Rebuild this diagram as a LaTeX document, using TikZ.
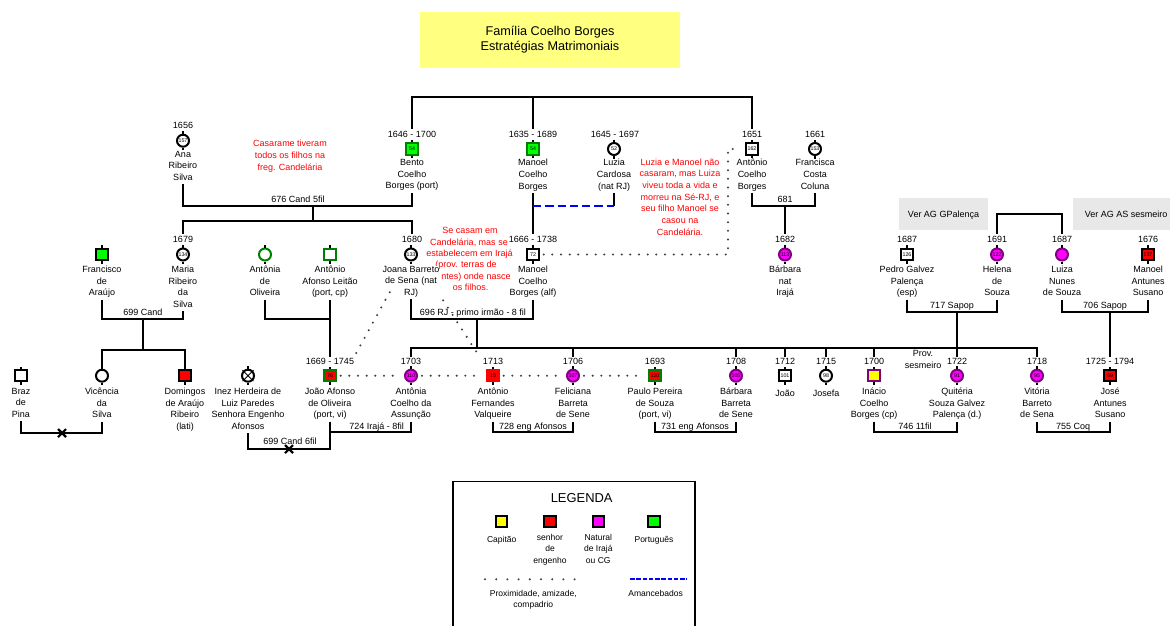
\documentclass[tikz,border=0pt]{standalone}
\usepackage{fontspec}
\setmainfont{Liberation Sans}
\newcommand\fn{\fontsize{6.75}{8.75}\selectfont}
\newcommand\fnum{\fontsize{4}{4}\selectfont}
\newcommand\fleg{\fontsize{6.4}{8.4}\selectfont}
\newcommand\ftitle{\fontsize{9.5}{11.25}\selectfont}
\newcommand\fbig{\fontsize{9.7}{11}\selectfont}
\definecolor{pgreen}{RGB}{0,255,0}
\definecolor{pdgreen}{RGB}{0,128,0}
\definecolor{pred}{RGB}{255,0,0}
\definecolor{pmag}{RGB}{255,0,255}
\definecolor{ppurp}{RGB}{128,0,128}
\definecolor{pyel}{RGB}{255,255,0}
\definecolor{pblue}{RGB}{0,0,255}
\definecolor{nred}{RGB}{255,0,0}
\definecolor{titlebg}{RGB}{255,255,128}
\definecolor{boxgray}{RGB}{232,232,232}
\tikzset{
  rel/.style={line width=1.5pt},
  stub/.style={line width=1.5pt},
  prox/.style={draw=black!75, line width=1.7pt, line cap=round, dash pattern=on 0pt off 6.5pt, shorten <=3pt, shorten >=3pt},
  proxleg/.style={draw=black!75, line width=1.7pt, line cap=round, dash pattern=on 0pt off 8.4pt},
  amanc/.style={draw=pblue, line width=1.5pt, dash pattern=on 6.2pt off 3pt},
  amancleg/.style={draw=pblue, line width=1.6pt, dash pattern=on 3.4pt off 1.3pt},
  pnode/.style={draw, line width=1.5pt, minimum size=8.5pt, inner sep=0pt, font=\fnum, fill=white},
  psq/.style={pnode, rectangle},
  pci/.style={pnode, circle, minimum size=9pt},
  lbl/.style={font=\fn, inner sep=0pt, text height=4.8pt, text depth=0pt},
  dt/.style={lbl, outer ysep=1.5pt},
  nm/.style={font=\fn, align=center, inner sep=0pt, anchor=north, execute at begin node=\strut, execute at end node=\strut},
  note/.style={lbl, text=nred},
  xmark/.style={line width=1.6pt},
}
\begin{document}
\begin{tikzpicture}[x=0.75pt,y=-0.75pt]
\useasboundingbox (0,0) rectangle (1170,625);
\clip (0,0) rectangle (1170,625);

% title and reference boxes
\node[fill=titlebg, minimum width=195pt, minimum height=42pt, inner sep=0pt, align=center, font=\ftitle] (title) at (550,40) {Família Coelho Borges\\Estratégias Matrimoniais};
\node[lbl, fill=boxgray, minimum width=66.75pt, minimum height=24pt] (verg) at (943.5,214) {Ver AG GPalença};
\node[lbl, fill=boxgray, minimum width=79.5pt, minimum height=24pt] (vera) at (1126,214) {Ver AG AS sesmeiro};

% notes
\node[nm, text=nred] (nota1) at (290,140) {Casarame tiveram\\todos os filhos na\\freg. Candelária};
\node[note] (n2a) at (470,230.7) {Se casam em};
\node[note] (n2b) at (469,242.3) {Candelária, mas se};
\node[note] (n2c) at (469.5,253.3) {estabelecem em Irajá};
\node[note] (n2d) at (466,264.3) {(prov. terras de};
\node[note] (n2e) at (476,276) {ntes) onde nasce};
\node[note] (n2f) at (470.7,287.7) {os filhos.};
\node[nm, text=nred] (nota3) at (680,158.3) {Luzia e Manoel não\\casaram, mas Luiza\\viveu toda a vida e\\morreu na Sé-RJ, e\\seu filho Manoel se\\casou na\\Candelária.};
\node[nm] (prov) at (923,350) {Prov.\\sesmeiro};

% generation 1
\node[pci] (ana) at (183,140.7) {157};
\node[dt] (ana-d) at (183,125) {1656};
\node[nm] (ana-n) at (183,150.7) {Ana\\Ribeiro\\Silva};
\node[psq, fill=pgreen, draw=pdgreen] (bento) at (412,149) {54};
\node[dt] (bento-d) at (412,134) {1646 - 1700};
\node[nm] (bento-n) at (412,159) {Bento\\Coelho\\Borges (port)};
\node[psq, fill=pgreen, draw=pdgreen] (manoela) at (533,149) {54};
\node[dt] (manoela-d) at (533,134) {1635 - 1689};
\node[nm] (manoela-n) at (533,159) {Manoel\\Coelho\\Borges};
\node[pci] (luzia) at (614,149) {52};
\node[dt] (luzia-d) at (615,134) {1645 - 1697};
\node[nm] (luzia-n) at (614,159) {Luzia\\Cardosa\\(nat RJ)};
\node[psq] (antonio) at (752,149) {162};
\node[dt] (antonio-d) at (752,134) {1651};
\node[nm] (antonio-n) at (752,159) {Antônio\\Coelho\\Borges};
\node[pci] (francisca) at (815,149) {153};
\node[dt] (francisca-d) at (815,134) {1661};
\node[nm] (francisca-n) at (815,159) {Francisca\\Costa\\Coluna};

% generation 2
\node[psq, fill=pgreen] (francisco) at (102,254.5) {};
\node[nm] (francisco-n) at (102,265.7) {Francisco\\de\\Araújo};
\node[pci] (maria) at (183,254.5) {134};
\node[dt] (maria-d) at (183,239) {1679};
\node[nm] (maria-n) at (183,265.7) {Maria\\Ribeiro\\da\\Silva};
\node[pci, draw=pdgreen] (antoniaol) at (265,254.5) {};
\node[nm] (antoniaol-n) at (265,265.7) {Antônia\\de\\Oliveira};
\node[psq, draw=pdgreen] (antonioal) at (330,254.5) {};
\node[nm] (antonioal-n) at (330,265.7) {Antônio\\Afonso Leitão\\(port, cp)};
\node[pci] (joana) at (411,254.5) {133};
\node[dt] (joana-d) at (412,239) {1680};
\node[nm, fill=white] (joana-n) at (411,265.7) {Joana Barreto\\de Sena (nat\\RJ)};
\node[psq] (manoelb) at (533,254.5) {72};
\node[dt] (manoelb-d) at (533,239) {1666 - 1738};
\node[nm] (manoelb-n) at (533,265.7) {Manoel\\Coelho\\Borges (alf)};
\node[pci, fill=pmag, draw=ppurp] (barbaraa) at (785,254.5) {113};
\node[dt] (barbaraa-d) at (785,239) {1682};
\node[nm] (barbaraa-n) at (785,265.7) {Bárbara\\nat\\Irajá};
\node[psq] (pedro) at (907,254.5) {126};
\node[dt] (pedro-d) at (907,239) {1687};
\node[nm] (pedro-n) at (907,265.7) {Pedro Galvez\\Palença\\(esp)};
\node[pci, fill=pmag, draw=ppurp] (helena) at (997,254.5) {122};
\node[dt] (helena-d) at (997,239) {1691};
\node[nm] (helena-n) at (997,265.7) {Helena\\de\\Souza};
\node[pci, fill=pmag, draw=ppurp] (luiza) at (1062,254.5) {};
\node[dt] (luiza-d) at (1062,239) {1687};
\node[nm] (luiza-n) at (1062,265.7) {Luiza\\Nunes\\de Souza};
\node[psq, fill=pred] (manoelc) at (1148,254.5) {137};
\node[dt] (manoelc-d) at (1148,239) {1676};
\node[nm] (manoelc-n) at (1148,265.7) {Manoel\\Antunes\\Susano};

% generation 3
\node[psq] (braz) at (21,375.7) {};
\node[nm] (braz-n) at (21,387.7) {Braz\\de\\Pina};
\node[pci] (vicencia) at (102,375.7) {};
\node[nm] (vicencia-n) at (102,387.7) {Vicência\\da\\Silva};
\node[psq, fill=pred] (domingos) at (185,375.7) {};
\node[nm] (domingos-n) at (185,387.7) {Domingos\\de Araújo\\Ribeiro\\(lati)};
\node[pci] (inez) at (248,375.7) {};
\draw[line width=0.6pt] (inez.center) +(-5.5,-5.5) -- +(5.5,5.5) (inez.center) +(-5.5,5.5) -- +(5.5,-5.5);
\node[nm] (inez-n) at (248,387.7) {Inez Herdeira de\\Luiz Paredes\\Senhora Engenho\\Afonsos};
\node[psq, fill=pred, draw=pdgreen] (joao) at (330,375.7) {76};
\node[dt] (joao-d) at (330,361.7) {1669 - 1745};
\node[nm] (joao-n) at (330,387.7) {João Afonso\\de Oliveira\\(port, vi)};
\node[pci, fill=pmag, draw=ppurp] (antoniac) at (411,375.7) {110};
\node[dt] (antoniac-d) at (411,361.7) {1703};
\node[nm] (antoniac-n) at (411,387.7) {Antônia\\Coelho da\\Assunção};
\node[psq, fill=pred, draw=pred] (antoniof) at (493,375.7) {15};
\node[dt] (antoniof-d) at (493,361.7) {1713};
\node[nm] (antoniof-n) at (493,387.7) {Antônio\\Fernandes\\Valqueire};
\node[pci, fill=pmag, draw=ppurp] (feliciana) at (573,375.7) {107};
\node[dt] (feliciana-d) at (573,361.7) {1706};
\node[nm] (feliciana-n) at (573,387.7) {Feliciana\\Barreta\\de Sene};
\node[psq, fill=pred, draw=pdgreen] (paulo) at (655,375.7) {120};
\node[dt] (paulo-d) at (655,361.7) {1693};
\node[nm] (paulo-n) at (655,387.7) {Paulo Pereira\\de Souza\\(port, vi)};
\node[pci, fill=pmag, draw=ppurp] (barbarab) at (736,375.7) {105};
\node[dt] (barbarab-d) at (736,361.7) {1708};
\node[nm] (barbarab-n) at (736,387.7) {Bárbara\\Barreta\\de Sene};
\node[psq] (joaob) at (785,375.7) {101};
\node[dt] (joaob-d) at (785,361.7) {1712};
\node[nm] (joaob-n) at (785,387.7) {João};
\node[pci] (josefa) at (826,375.7) {98};
\node[dt] (josefa-d) at (826,361.7) {1715};
\node[nm] (josefa-n) at (826,387.7) {Josefa};
\node[psq, fill=pyel, draw=ppurp] (inacio) at (874,375.7) {};
\node[dt] (inacio-d) at (874,361.7) {1700};
\node[nm] (inacio-n) at (874,387.7) {Inácio\\Coelho\\Borges (cp)};
\node[pci, fill=pmag, draw=ppurp] (quiteria) at (957,375.7) {91};
\node[dt] (quiteria-d) at (957,361.7) {1722};
\node[nm] (quiteria-n) at (957,387.7) {Quitéria\\Souza Galvez\\Palença (d.)};
\node[pci, fill=pmag, draw=ppurp] (vitoria) at (1037,375.7) {95};
\node[dt] (vitoria-d) at (1037,361.7) {1718};
\node[nm] (vitoria-n) at (1037,387.7) {Vitória\\Barreto\\de Sena};
\node[psq, fill=pred] (jose) at (1110,375.7) {69};
\node[dt] (jose-d) at (1110,361.7) {1725 - 1794};
\node[nm] (jose-n) at (1110,387.7) {José\\Antunes\\Susano};

% short ticks above and below every person symbol
\foreach \p in {ana,bento,manoela,luzia,antonio,francisca,francisco,maria,antoniaol,antonioal,joana,manoelb,barbaraa,pedro,helena,luiza,manoelc,braz,vicencia,domingos,inez,joao,antoniac,antoniof,feliciana,paulo,barbarab,joaob,josefa,inacio,quiteria,vitoria,jose}
  \draw[stub] (\p.north) -- ++(0,-2.5) (\p.south) -- ++(0,2.5);

% siblings of the first generation
\coordinate (s0) at (533,97);
\draw[rel] (bento-d.north) |- (s0) -| (antonio-d.north);
\draw[rel] (manoela-d.north) -- (s0);

% 676: Ana and Bento
\coordinate (m676) at (313,206);
\draw[rel] (ana-n.south) |- (m676) -| (bento-n.south);
\node[lbl] (l676) at (298,199) {676 Cand 5fil};
\coordinate (s676) at (313,221);
\draw[rel] (m676) -- (s676);
\draw[rel] (maria-d.north) |- (s676) -| (joana-d.north);

% Manoel and Luzia
\coordinate (mml) at (533,206);
\draw[rel] (manoela-n.south) -- (manoelb-d.north);
\draw[rel] (luzia-n.south) -- (luzia-n.south |- mml);
\draw[amanc] (mml) -- (luzia-n.south |- mml);

% 681: Antônio and Francisca
\coordinate (m681) at (785,206);
\draw[rel] (antonio-n.south) |- (m681) -| (francisca-n.south);
\draw[rel] (m681) -- (barbaraa-d.north);
\node[lbl] (l681) at (785,199) {681};

% 699: Francisco and Maria
\coordinate (m699) at (143,319);
\draw[rel] (francisco-n.south) |- (m699) -| (maria-n.south);
\node[lbl] (l699) at (143,312) {699 Cand};
\coordinate (s699) at (143,350);
\draw[rel] (m699) -- (s699);
\draw[rel] (vicencia.north) |- (s699) -| (domingos.north);

% Braz and Vicência
\coordinate (mbv) at (62,433);
\draw[rel] (braz-n.south) |- (mbv) -| (vicencia-n.south);
\draw[xmark] (mbv) +(-4,-4) -- +(4,4) (mbv) +(-4,4) -- +(4,-4);

% Antônia de Oliveira and Antônio Afonso
\coordinate (maa) at (330,319);
\draw[rel] (antoniaol-n.south) |- (maa);
\draw[rel] (antonioal-n.south) -- (joao-d.north);

% 699: Inez and João
\coordinate (m699b) at (289,449);
\draw[rel] (inez-n.south) |- (m699b) -| (joao-n.south);
\node[lbl] (l699b) at (290,441.7) {699 Cand 6fil};
\draw[xmark] (m699b) +(-4,-4) -- +(4,4) (m699b) +(-4,4) -- +(4,-4);

% 724: João and Antônia
\coordinate (m724) at (371,431.7);
\draw[rel] (joao-n.south) |- (m724) -| (antoniac-n.south);
\node[lbl] (l724) at (376.7,426.7) {724 Irajá - 8fil};

% 696: Joana and Manoel
\coordinate (m696) at (477,319);
\draw[rel] (joana-n.south) |- (m696) -| (manoelb-n.south);
\node[lbl] (l696) at (473,312) {696 RJ - primo irmão - 8 fil};
\coordinate (s696) at (477,348);
\draw[rel] (m696) -- (s696);
\draw[rel] (antoniac-d.north) |- (s696) -| (vitoria-d.north);
\foreach \c in {feliciana,barbarab,joaob,josefa,inacio}
  \draw[rel] (\c-d.north) -- (\c-d.north |- s696);

% 717 and 706
\coordinate (m717) at (957,311.7);
\draw[rel] (pedro-n.south) |- (m717) -| (helena-n.south);
\draw[rel] (m717) -- (quiteria-d.north);
\node[lbl] (l717) at (952,305) {717 Sapop};
\coordinate (m706) at (1110,311.7);
\draw[rel] (luiza-n.south) |- (m706) -| (manoelc-n.south);
\draw[rel] (m706) -- (jose-d.north);
\node[lbl] (l706) at (1105,305) {706 Sapop};
\coordinate (shl) at (1030,214);
\draw[rel] (helena-d.north) |- (shl) -| (luiza-d.north);

% 728, 731, 746, 755
\coordinate (m728) at (533,431.7);
\draw[rel] (antoniof-n.south) |- (m728) -| (feliciana-n.south);
\node[lbl] (l728) at (533,426.7) {728 eng Afonsos};
\coordinate (m731) at (695,431.7);
\draw[rel] (paulo-n.south) |- (m731) -| (barbarab-n.south);
\node[lbl] (l731) at (695,426.7) {731 eng Afonsos};
\coordinate (m746) at (915,431.7);
\draw[rel] (inacio-n.south) |- (m746) -| (quiteria-n.south);
\node[lbl] (l746) at (915,426.7) {746 11fil};
\coordinate (m755) at (1073,431.7);
\draw[rel] (vitoria-n.south) |- (m755) -| (jose-n.south);
\node[lbl] (l755) at (1073,426.7) {755 Coq};

% proximity links
\coordinate (pc) at (728,149);
\draw[prox] (manoelb.east) -| (pc) -- (antonio.west);
\draw[prox] (joao.east) -- (antoniac.west);
\draw[prox] (antoniac.east) -- (antoniof.west);
\draw[prox] (antoniof.east) -- (feliciana.west);
\draw[prox] (feliciana.east) -- (paulo.west);
\coordinate (jd1) at (392,288);
\draw[prox] (joao-d.north east) -- (jd1);
\coordinate (jd2) at (441,297);
\draw[prox] (jd2) -- (antoniof-d.west);

% legend
\draw[line width=1pt] (453,640) |- (695,481.7) -- (695,640);
\node[lbl, font=\fbig, text height=7pt] (leg) at (581.7,498.3) {LEGENDA};
\node[psq, fill=pyel] (lg1) at (501.7,521.7) {};
\node[psq, fill=pred] (lg2) at (550,521.7) {};
\node[psq, fill=pmag] (lg3) at (598.3,521.7) {};
\node[psq, fill=pgreen] (lg4) at (654,521.7) {};
\node[nm, font=\fleg] (lg1-n) at (501.7,534.3) {Capitão};
\node[nm, font=\fleg] (lg2-n) at (550,534.3) {senhor\\de\\engenho};
\node[nm, font=\fleg] (lg3-n) at (598.3,534.3) {Natural\\de Irajá\\ou CG};
\node[nm, font=\fleg] (lg4-n) at (654,534.3) {Português};
\coordinate (lp1) at (485,579.3);
\coordinate (lp2) at (575,579.3);
\draw[proxleg] (lp1) -- (lp2);
\coordinate (la1) at (630,579.3);
\coordinate (la2) at (687,579.3);
\draw[amancleg] (la1) -- (la2);
\node[nm, font=\fleg] (lg5) at (533.3,590) {Proximidade, amizade,\\compadrio};
\node[lbl, font=\fleg] (lg6) at (655.7,593.3) {Amancebados};
\end{tikzpicture}
\end{document}
